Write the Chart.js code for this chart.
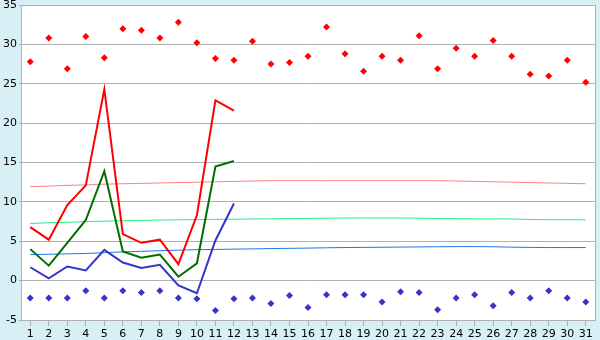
<!DOCTYPE html>
<html>
<head>
<meta charset="utf-8">
<script src="https://cdn.jsdelivr.net/npm/chart.js@4"></script>
<style>
  html, body { margin: 0; padding: 0; background: #d8eff6; }
  #wrap { width: 600px; height: 340px; }
</style>
</head>
<body>
<div id="wrap"><canvas id="chart" width="600" height="340"></canvas></div>
<script>
/* ─── Daily temperatures chart ─── */

const days = Array.from({ length: 31 }, (_, i) => String(i + 1));
const yTicks = [-5, 0, 5, 10, 15, 20, 25, 30, 35];

// record highs / lows (markers)
const recordHigh = [27.8, 30.8, 26.9, 31.0, 28.3, 32.0, 31.8, 30.8, 32.8, 30.2,
  28.2, 28.0, 30.4, 27.5, 27.7, 28.5, 32.2, 28.8, 26.6, 28.5,
  28.0, 31.1, 26.9, 29.5, 28.5, 30.5, 28.5, 26.2, 26.0, 28.0, 25.2];
const recordLow = [-2.2, -2.2, -2.2, -1.3, -2.2, -1.3, -1.5, -1.3, -2.2, -2.3,
  -3.8, -2.3, -2.2, -2.9, -1.9, -3.4, -1.8, -1.8, -1.8, -2.7,
  -1.4, -1.5, -3.7, -2.2, -1.8, -3.2, -1.5, -2.2, -1.3, -2.2, -2.7];

// this month (first 12 days)
const maxTemp = [6.8, 5.2, 9.6, 12.1, 24.3, 5.9, 4.8, 5.2, 2.1, 8.3, 22.9, 21.6];
const meanTemp = [4.0, 1.9, 4.8, 7.7, 13.9, 3.7, 2.9, 3.3, 0.5, 2.2, 14.5, 15.2];
const minTemp = [1.7, 0.3, 1.8, 1.3, 3.9, 2.3, 1.6, 2.0, -0.6, -1.6, 5.1, 9.8];

// long term averages
const normMax = [11.95, 12.0, 12.1, 12.15, 12.25, 12.3, 12.35, 12.4, 12.45, 12.5,
  12.55, 12.6, 12.65, 12.7, 12.7, 12.7, 12.7, 12.7, 12.7, 12.7,
  12.7, 12.7, 12.7, 12.65, 12.6, 12.55, 12.5, 12.45, 12.4, 12.35, 12.3];
const normMean = [7.25, 7.35, 7.4, 7.5, 7.55, 7.6, 7.65, 7.7, 7.72, 7.75,
  7.78, 7.8, 7.82, 7.85, 7.87, 7.9, 7.93, 7.95, 7.95, 7.95,
  7.95, 7.93, 7.88, 7.86, 7.85, 7.84, 7.82, 7.76, 7.74, 7.73, 7.72];
const normMin = [3.3, 3.35, 3.4, 3.45, 3.55, 3.65, 3.72, 3.8, 3.87, 3.93,
  3.96, 4.0, 4.03, 4.07, 4.1, 4.13, 4.17, 4.2, 4.22, 4.24,
  4.26, 4.28, 4.3, 4.32, 4.32, 4.3, 4.25, 4.22, 4.2, 4.2, 4.2];

const GRID = '#b0b0b0';

const frame = {
  id: 'frame',
  beforeDraw(chart) {
    const { ctx, chartArea: a } = chart;
    ctx.save();
    ctx.fillStyle = '#d8eff6';
    ctx.fillRect(0, 0, chart.width, chart.height);
    ctx.fillStyle = '#ffffff';
    ctx.fillRect(a.left, a.top, a.right - a.left, a.bottom - a.top);
    ctx.restore();
  },
  afterDraw(chart) {
    const { ctx, chartArea: a } = chart;
    ctx.save();
    ctx.strokeStyle = GRID;
    ctx.lineWidth = 1;
    ctx.beginPath();
    ctx.moveTo(a.right + 0.5, a.top);
    ctx.lineTo(a.right + 0.5, a.bottom);
    ctx.stroke();
    ctx.restore();
  }
};

function thin(data, color) {
  return { type: 'line', data, borderColor: color, borderWidth: 1, pointRadius: 0, order: 5 };
}
function thick(data, color) {
  return { type: 'line', data, borderColor: color, borderWidth: 2, pointRadius: 0, order: 3 };
}
function dots(data, color) {
  return { type: 'line', data, showLine: false, pointStyle: 'rectRot', pointRadius: 3.5,
    pointBackgroundColor: color, pointBorderWidth: 0, order: 1 };
}

new Chart(document.getElementById('chart'), {
  type: 'line',
  data: {
    labels: days,
    datasets: [
      thin(normMax, '#ff8080'),
      thin(normMean, '#20f080'),
      thin(normMin, '#1a78e8'),
      thick(maxTemp, '#ff0000'),
      thick(meanTemp, '#006e00'),
      thick(minTemp, '#3535c8'),
      dots(recordHigh, '#ff0000'),
      dots(recordLow, '#3535c8')
    ]
  },
  options: {
    responsive: false,
    animation: false,
    layout: { padding: { top: 5, right: 5, left: 0, bottom: 0 } },
    plugins: { legend: { display: false }, tooltip: { enabled: false } },
    scales: {
      x: {
        type: 'category',
        offset: true,
        grid: { offset: false, drawOnChartArea: false, color: GRID, tickLength: 6 },
        border: { color: GRID },
        ticks: { color: '#000', font: { family: 'DejaVu Sans', size: 11 }, padding: 2,
          maxRotation: 0, autoSkip: false },
        afterFit(s) { s.height = 20; s.paddingLeft = 0; s.paddingRight = 0; }
      },
      y: {
        min: -5,
        max: 35,
        afterBuildTicks(s) { s.ticks = yTicks.map(v => ({ value: v })); },
        grid: { color: GRID, tickLength: 2 },
        border: { color: GRID },
        ticks: { color: '#000', font: { family: 'DejaVu Sans', size: 11 }, padding: 2 },
        afterFit(s) { s.width = 21; s.paddingTop = 0; s.paddingBottom = 0; }
      }
    }
  },
  plugins: [frame]
});
</script>
</body>
</html>
